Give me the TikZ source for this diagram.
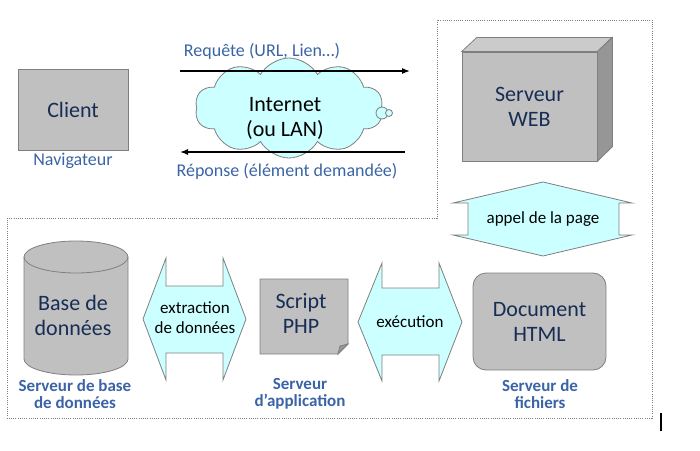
\documentclass[tikz,border=0pt]{standalone}
\usepackage{fontspec}
\setmainfont{Carlito}
\usetikzlibrary{arrows.meta,shapes.symbols,positioning}

\definecolor{boxgray}{HTML}{C0C0C0}
\definecolor{edgegray}{HTML}{7F7F7F}
\definecolor{sidegray}{HTML}{969696}
\definecolor{topgray}{HTML}{CBCBCB}
\definecolor{flowcyan}{HTML}{CCFFFF}
\definecolor{labelblue}{RGB}{58,100,165}
\definecolor{boxtext}{RGB}{23,45,85}

\begin{document}
\begin{tikzpicture}[x=1pt, y=1pt,
  inside/.style={text=boxtext, align=center, font=\fontsize{22}{25}\selectfont},
  box/.style={inside, draw=edgegray, fill=boxgray, line width=0.8pt},
  flow/.style={draw=edgegray, fill=flowcyan, line width=0.8pt},
  flowtext/.style={align=center, font=\fontsize{17}{20}\selectfont},
  tag/.style={text=labelblue, font=\fontsize{18}{21}\selectfont},
  role/.style={text=labelblue, align=center, font=\fontsize{17}{16.5}\bfseries\selectfont},
  arrow/.style={-{Latex[length=8pt, width=6pt]}, line width=1.3pt}
]
\useasboundingbox (0,0) rectangle (700,450);

% Server zone
\draw[edgegray, dash pattern=on 1pt off 1.2pt, line width=0.8pt]
  (7,232) -- (437,232) -- (437,430) -- (652,430) -- (652,32) -- (7,32) -- cycle;

% Client
\node[box, minimum width=110pt, minimum height=81pt] (client) at (73,340) {Client};
\node[tag] (nav) at (73,289) {Navigateur};

% Internet
\node[cloud, cloud puffs=10, cloud puff arc=120, aspect=2.2, flow, minimum width=188pt,
  minimum height=100pt, inner sep=0pt] (net) at (289,342) {};
\draw[flow] (382,337) circle (6);
\draw[flow] (389,337) circle (3.5);
\node[inside, text=black] (nettext) at (285,332) {Internet\\(ou LAN)};

% Request / response
\coordinate (reqstart) at (180,379);
\coordinate (reqend) at (410,379);
\coordinate (repstart) at (405,298);
\coordinate (repend) at (180,298);
\draw[arrow] (reqstart) -- (reqend);
\draw[arrow] (repstart) -- (repend);
\node[tag] (req) at (262,399) {Requête (URL, Lien…)};
\node[tag] (rep) at (287,279) {Réponse (élément demandée)};

% Web server
\node[box, minimum width=135pt, minimum height=109pt] (web) at (529.5,343.5) {Serveur\\WEB};
\filldraw[fill=topgray, draw=edgegray, line width=0.8pt]
  (web.north west) -- ++(15,14) -- ++(135,0) -- (web.north east) -- cycle;
\filldraw[fill=sidegray, draw=edgegray, line width=0.8pt]
  (web.north east) -- ++(15,14) -- ++(0,-109) -- (web.south east) -- cycle;

% appel de la page
\filldraw[flow] (543,268) -- (632,247) -- (619,247) -- (619,215) -- (632,215) -- (543,194)
  -- (453,215) -- (468,215) -- (468,247) -- (453,247) -- cycle;
\node[flowtext] (appel) at (543,231) {appel de la page};

% Database
\filldraw[fill=boxgray, draw=edgegray, line width=0.8pt]
  (24,193) -- (24,91) arc[start angle=180, end angle=360, x radius=52, y radius=16]
  -- (128,193) arc[start angle=0, end angle=180, x radius=52, y radius=16] -- cycle;
\draw[edgegray, line width=0.8pt] (24,193) arc[start angle=180, end angle=360, x radius=52, y radius=16];
\node[inside] (db) at (73,135) {Base de\\données};
\node[role] (dbrole) at (75,56) {Serveur de base\\de données};

% extraction
\filldraw[flow] (143,131) -- (166,192) -- (166,164) -- (223,164) -- (223,192) -- (246,131)
  -- (223,70) -- (223,97) -- (166,97) -- (166,70) -- cycle;
\node[flowtext] (extract) at (195,132) {extraction\\de données};

% Script PHP
\filldraw[fill=boxgray, draw=edgegray, line width=0.8pt]
  (260,171) -- (348,171) -- (348,106) -- (338,96) -- (260,96) -- cycle;
\filldraw[fill=sidegray, draw=edgegray, line width=0.8pt]
  (338,96) -- (340,104) -- (348,106) -- cycle;
\node[inside] (php) at (301,137) {Script\\PHP};
\node[role] (approle) at (300,56) {Serveur\\d’application};

% execution
\filldraw[flow] (358,128) -- (382,187) -- (382,162) -- (439,162) -- (439,187) -- (462,128)
  -- (439,69) -- (439,95) -- (382,95) -- (382,69) -- cycle;
\node[flowtext] (exec) at (410,128) {exécution};

% Document HTML
\node[box, rounded corners=13pt, minimum width=133pt, minimum height=97pt] (doc)
  at (539.5,128.5) {Document\\HTML};
\node[role] (filerole) at (540,56) {Serveur de\\fichiers};

% cursor mark
\draw[line width=1.8pt] (661,37) -- (661,19);

\end{tikzpicture}
\end{document}
